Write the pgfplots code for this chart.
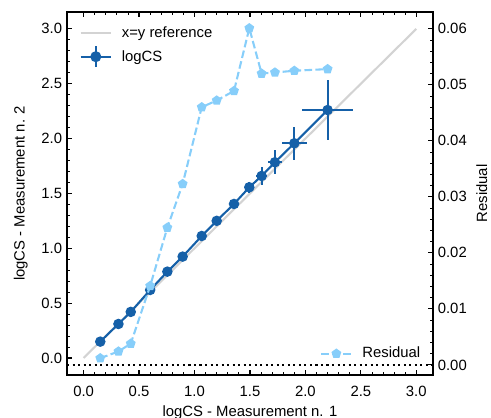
\documentclass[border=0pt]{standalone}
\usepackage{fontspec}
\setmainfont{Liberation Sans}
\usepackage{pgfplots}
\pgfplotsset{compat=1.18}
\usetikzlibrary{plotmarks}
\definecolor{csblue}{HTML}{1560A8}
\definecolor{resblue}{HTML}{87CEFA}
\definecolor{refgray}{HTML}{D3D3D3}

\pgfplotsset{
  common/.style={
    scale only axis,width=263.5pt,height=261.4pt,
    xmin=-0.15,xmax=3.15,
    tick align=inside,
    major tick length=3.7pt,minor tick length=2.1pt,
    every tick/.style={black,line width=0.85pt},
    minor tick style={line width=0.65pt},
    tick label style={font=\fontsize{10.7}{12.8}\selectfont},
    label style={font=\fontsize{10.7}{12.8}\selectfont},
    /pgf/number format/assume math mode=true,
    axis line style={line width=1pt},
    legend style={draw=none,fill=none,font=\fontsize{10.7}{12.8}\selectfont,
      row sep=2pt,column sep=5pt},
    legend cell align=left,
    legend image code/.code={
      \draw[mark repeat=2,mark phase=2,##1]
        plot coordinates {(0pt,0pt) (11pt,0pt) (22pt,0pt)};},
  }
}

\begin{document}
\begin{tikzpicture}
\begin{axis}[common,
  ymin=-0.155,ymax=3.154,
  xtick={0,0.5,...,3.0},ytick={0,0.5,...,3.0},
  minor x tick num=4,minor y tick num=4,
  xtick pos=both,ytick pos=left,
  xticklabel shift=4.5pt,
  xticklabel style={/pgf/number format/fixed,/pgf/number format/fixed zerofill,/pgf/number format/precision=1},
  yticklabel style={/pgf/number format/fixed,/pgf/number format/fixed zerofill,/pgf/number format/precision=1},
  xlabel={logCS - Measurement n. 1},
  ylabel={logCS - Measurement n. 2},
  ylabel style={yshift=3pt},
  legend style={at={(0.022,0.975)},anchor=north west},
]
\addplot[refgray,line width=1.5pt] coordinates {(0,0) (3,3)};
\addlegendentry{x=y reference}
\addplot[csblue,line width=1.5pt,mark=*,mark size=3pt,
  legend image code/.code={
    \draw[csblue,line width=1.5pt] (0pt,0pt) -- (22pt,0pt);
    \draw[csblue,line width=1.5pt] (11pt,-7.5pt) -- (11pt,7.5pt);
    \fill[csblue] (11pt,0pt) circle (3.2pt);},
  error bars/.cd,x dir=both,x explicit,y dir=both,y explicit,
  error bar style={line width=1.5pt,csblue},error mark=none]
  coordinates {
  (0.150,0.149) +- (0.01,0.01)
  (0.314,0.310) +- (0.01,0.01)
  (0.425,0.420) +- (0.01,0.01)
  (0.600,0.620) +- (0.01,0.01)
  (0.755,0.787) +- (0.01,0.01)
  (0.893,0.924) +- (0.01,0.01)
  (1.065,1.112) +- (0.01,0.01)
  (1.200,1.250) +- (0.01,0.02)
  (1.356,1.404) +- (0.02,0.03)
  (1.494,1.556) +- (0.035,0.05)
  (1.605,1.659) +- (0.048,0.085)
  (1.725,1.784) +- (0.063,0.11)
  (1.900,1.957) +- (0.11,0.15)
  (2.200,2.260) +- (0.23,0.27)
};
\addlegendentry{logCS}
\end{axis}
\begin{axis}[common,
  ymin=-0.0018,ymax=0.063,
  axis x line=none,axis y line*=right,
  ytick={0,0.01,...,0.06},minor y tick num=4,
  scaled y ticks=false,
  yticklabel style={/pgf/number format/fixed,/pgf/number format/fixed zerofill,/pgf/number format/precision=2},
  ylabel={Residual},
  legend style={at={(0.985,0.025)},anchor=south east},
]
\addplot[black,line width=1.5pt,dash pattern=on 1.5pt off 2.475pt,forget plot]
  coordinates {(-0.15,0) (3.15,0)};
\addplot[resblue,line width=1.5pt,dash pattern=on 5.5pt off 2.4pt,
  mark=pentagon*,mark size=2.8pt,mark options={solid}]
  coordinates {
  (0.150,0.0012) (0.314,0.0024) (0.425,0.0038) (0.600,0.0141)
  (0.755,0.0245) (0.893,0.0323) (1.065,0.0460) (1.200,0.0472)
  (1.356,0.0489) (1.494,0.0601) (1.605,0.0520) (1.725,0.0522)
  (1.900,0.0525) (2.200,0.0528)
};
\addlegendentry{Residual}
\end{axis}
\pgfresetboundingbox
\path[use as bounding box] (-48.24pt,-30.96pt) rectangle (305.3pt,270pt);
\end{tikzpicture}
\end{document}
